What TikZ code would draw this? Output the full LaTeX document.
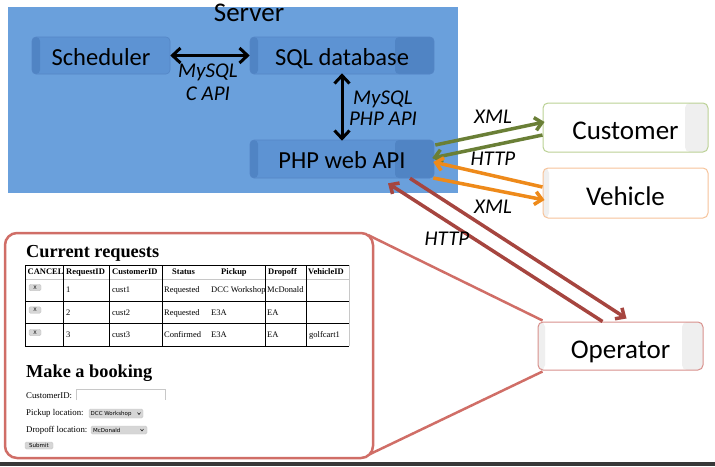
\documentclass[tikz,border=0pt]{standalone}
\usepackage{fontspec}
\setmainfont{Carlito}
\newfontfamily\wserif{Liberation Serif}
\newfontfamily\wsans{DejaVu Sans}
\usetikzlibrary{arrows.meta,calc}
\definecolor{srvblue}{HTML}{6AA0DC}
\definecolor{boxblue}{HTML}{5D93D3}
\definecolor{boxedge}{HTML}{5586C6}
\definecolor{stripblue}{HTML}{5084C4}
\definecolor{grn}{HTML}{6A7F36}
\definecolor{grnedge}{HTML}{BBD195}
\definecolor{org}{HTML}{EE8A1A}
\definecolor{orgedge}{HTML}{F6C39A}
\definecolor{redarr}{HTML}{A6453F}
\definecolor{rededge}{HTML}{D8908C}
\definecolor{callred}{HTML}{D06E67}
\definecolor{stripgray}{HTML}{EFEFEF}
\definecolor{darkbar}{HTML}{383838}
\definecolor{btngray}{HTML}{D6D6D6}
\definecolor{linegray}{HTML}{C8C8C8}
\begin{document}
\begin{tikzpicture}[x=1pt,y=-1pt,
  strips/.style n args={4}{path picture={
     \fill[#1] (path picture bounding box.north west) rectangle ([xshift=#2]path picture bounding box.south west);
     \fill[#3] ([xshift=-#4]path picture bounding box.north east) rectangle (path picture bounding box.south east);}},
  serverbox/.style={fill=srvblue, draw=none, minimum width=450pt, minimum height=186pt, inner sep=0pt},
  innerbox/.style={draw=boxedge, line width=0.6pt, fill=boxblue, rounded corners=4pt,
     minimum height=37pt, inner sep=0pt, text height=19pt, text depth=0pt,
     font=\fontsize{24.5}{28}\selectfont},
  outbox/.style={draw=#1, line width=1pt, fill=white, rounded corners=5pt,
     minimum width=165pt, inner sep=0pt, text height=24pt, text depth=0pt,
     font=\fontsize{27}{30}\selectfont},
  lbl/.style={font=\fontsize{21}{22}\selectfont\itshape, inner sep=0pt, align=center},
  blkarr/.style={line width=3pt, {Straight Barb[length=8pt,width=15pt]}-{Straight Barb[length=8pt,width=15pt]}},
  colarr/.style={draw=#1, line width=3.5pt, -{Straight Barb[length=7pt,width=13pt]}},
  callout/.style={draw=callred, line width=2.5pt, rounded corners=12pt, fill=white,
     minimum width=368pt, minimum height=225pt, inner sep=0pt},
  wedge/.style={draw=callred, line width=2.5pt},
  ttxt/.style={font=\wserif\fontsize{8.5}{9}\selectfont, inner sep=0pt, anchor=base west},
  thd/.style={font=\wserif\bfseries\fontsize{8.5}{9}\selectfont, inner sep=0pt, anchor=base west},
  ftxt/.style={font=\wserif\fontsize{8.8}{9}\selectfont, inner sep=0pt, anchor=base west},
  hdg/.style={font=\wserif\bfseries\fontsize{18.3}{20}\selectfont, inner sep=0pt, anchor=base west},
  btn/.style={fill=btngray, draw=linegray, line width=0.4pt, rounded corners=1.5pt, inner sep=0pt,
     font=\wsans\fontsize{5}{5}\selectfont},
  tline/.style={line width=0.9pt, draw=black},
  tlight/.style={line width=0.6pt, draw=linegray}
]
\useasboundingbox (0,0) rectangle (715,466);

% ---------------- Server ----------------
\node (server) [serverbox] at (233,100) {};
\node (srvlbl) [font=\fontsize{27}{30}\selectfont, inner sep=0pt, anchor=base] at (249,21) {Server};

\node (sched) [innerbox, minimum width=138pt, strips={stripblue}{8pt}{boxblue}{0pt}] at (101,55.5) {Scheduler};
\node (sql) [innerbox, minimum width=184pt, strips={stripblue}{8pt}{stripblue}{39pt}] at (342,55.5) {SQL database};
\node (php) [innerbox, minimum width=184pt, minimum height=38pt, strips={stripblue}{8pt}{stripblue}{39pt}] at (342,159) {PHP web API};

\draw[blkarr] (sched.east) -- (sql.west);
\draw[blkarr] ([yshift=1pt]sql.south) -- ([yshift=-1pt]php.north);
\node (lblc) [lbl] at (208,82) {MySQL\\[1pt]C API};
\node (lblphp) [lbl] at (383,108) {MySQL\\[-1pt]PHP API};

% ---------------- Clients ----------------
\node (cust) [outbox=grnedge, minimum height=49pt, strips={white}{0pt}{stripgray}{23pt}] at (625.5,127.5) {Customer};
\node (veh) [outbox=orgedge, minimum height=50pt, strips={stripgray}{6pt}{white}{0pt}] at (625.5,193) {Vehicle};
\node (op) [outbox=rededge, minimum height=48pt, strips={stripgray}{7pt}{stripgray}{21pt}] at (620.5,346) {Operator};

\draw[colarr=grn] ([xshift=1pt,yshift=14pt]php.east) -- ([xshift=2pt,yshift=5.5pt]cust.west);
\draw[colarr=grn] ([yshift=-7.5pt]cust.west) -- ([xshift=-2pt,yshift=1pt]php.east);
\draw[colarr=org] ([yshift=6pt]veh.west) -- ([xshift=-1pt,yshift=-3pt]php.east);
\draw[colarr=org] ([xshift=-1pt,yshift=-19pt]php.east) -- ([xshift=2pt,yshift=-7pt]veh.west);
\draw[colarr=redarr] ([xshift=-18pt]op.north) -- ([xshift=46pt,yshift=-5pt]php.south);
\draw[colarr=redarr] ([xshift=68pt]php.south) -- ([xshift=6pt,yshift=3pt]op.north);

\node (xml1) [lbl] at (493,117) {XML};
\node (http1) [lbl] at (493,159) {HTTP};
\node (xml2) [lbl] at (493,207) {XML};
\node (http2) [lbl] at (447,239) {HTTP};

% ---------------- Screenshot callout ----------------
\draw[wedge] (368,235) -- ([xshift=5pt,yshift=1pt]op.north west);
\draw[wedge] (366,456) -- ([xshift=5pt,yshift=-1pt]op.south west);
\node (shot) [callout] at (189,345.5) {};

\node (h1) [hdg] at (26,257) {Current requests};

% table lines
\draw[tline] (25,265) -- (349,265);
\draw[tlight] (25,279) -- (349,279);
\draw[tline] (25,301) -- (349,301);
\draw[tline] (25,323) -- (349,323);
\draw[tline] (25,346) -- (349,346);
\foreach \cx in {25,63,109,162,265,306} \draw[tline] (\cx,265) -- (\cx,346);
\draw[tlight] (349,265) -- (349,346);

% header
\node (th1) [thd] at (27.5,274) {CANCEL};
\node (th2) [thd] at (66,274) {RequestID};
\node (th3) [thd] at (112,274) {CustomerID};
\node (th4) [thd] at (172,274) {Status};
\node (th5) [thd] at (221,274) {Pickup};
\node (th6) [thd] at (268,274) {Dropoff};
\node (th7) [thd] at (308,274) {VehicleID};

% rows
\node (x1) [btn, minimum width=12pt, minimum height=6.5pt] at (35,287.5) {X};
\node (r1a) [ttxt] at (66,292) {1};
\node (r1b) [ttxt] at (112,292) {cust1};
\node (r1c) [ttxt] at (164,292) {Requested};
\node (r1d) [ttxt] at (211,292) {DCC Workshop};
\node (r1e) [ttxt] at (267,292) {McDonald};

\node (x2) [btn, minimum width=12pt, minimum height=6.5pt] at (35,310) {X};
\node (r2a) [ttxt] at (66,315) {2};
\node (r2b) [ttxt] at (112,315) {cust2};
\node (r2c) [ttxt] at (164,315) {Requested};
\node (r2d) [ttxt] at (211,315) {E3A};
\node (r2e) [ttxt] at (267,315) {EA};

\node (x3) [btn, minimum width=12pt, minimum height=6.5pt] at (35,332.5) {X};
\node (r3a) [ttxt] at (66,337) {3};
\node (r3b) [ttxt] at (112,337) {cust3};
\node (r3c) [ttxt] at (164,337) {Confirmed};
\node (r3d) [ttxt] at (211,337) {E3A};
\node (r3e) [ttxt] at (267,337) {EA};
\node (r3f) [ttxt] at (309,337) {golfcart1};

% booking form
\node (h2) [hdg] at (26,377) {Make a booking};
\node (f1) [ftxt] at (26,398) {CustomerID:};
\draw[linegray, line width=0.6pt] (76,400) -- (76,389) -- (165,389) -- (165,400);
\node (f2) [ftxt] at (26,415) {Pickup location:};
\node (sel1) [btn, minimum width=54pt, minimum height=9pt] at (116,413.5) {};
\node (sel1t) [font=\wsans\fontsize{5.5}{6}\selectfont, inner sep=0pt, anchor=west] at (90.5,413.5) {DCC Workshop};
\draw[line width=0.5pt] (137.5,412.5) -- (139,414.5) -- (140.5,412.5);
\node (f3) [ftxt] at (26,432) {Dropoff location:};
\node (sel2) [btn, minimum width=56pt, minimum height=8pt] at (119,430) {};
\node (sel2t) [font=\wsans\fontsize{5.5}{6}\selectfont, inner sep=0pt, anchor=west] at (93,430) {McDonald};
\draw[line width=0.5pt] (140.5,429) -- (142,431) -- (143.5,429);
\node (sub) [btn, minimum width=28pt, minimum height=7pt, font=\wsans\fontsize{5.5}{6}\selectfont] at (39,445.5) {Submit};

% bottom bar
\fill[darkbar] (0,462) rectangle (715,466);
\end{tikzpicture}
\end{document}
